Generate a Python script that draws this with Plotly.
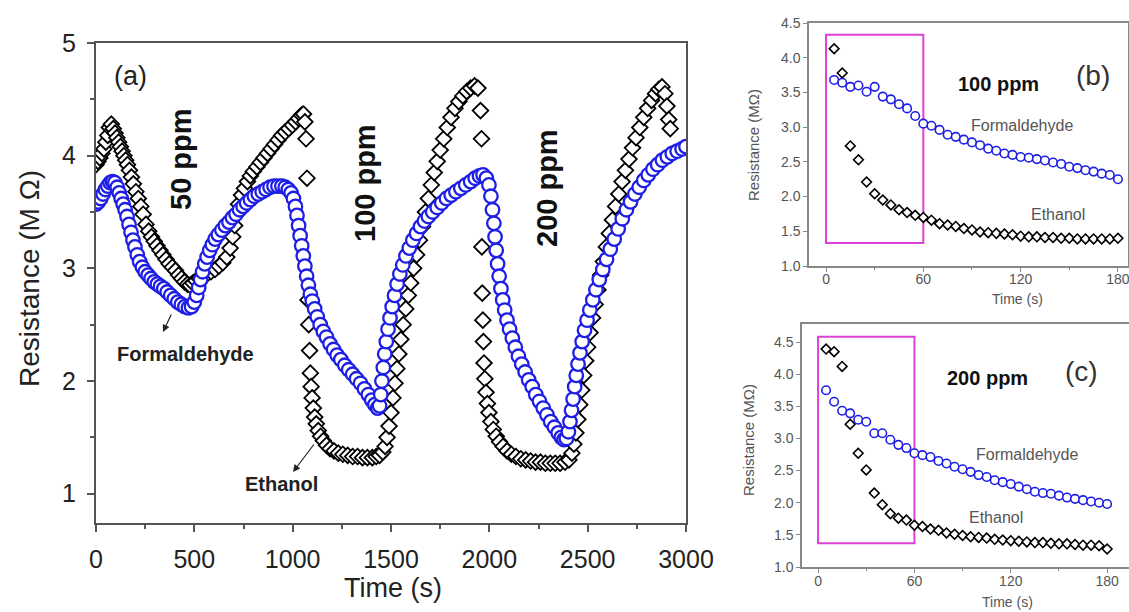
import plotly.graph_objects as go

# ---------------- data ----------------
# Panel (a): dynamic response, Ethanol (black diamonds) and Formaldehyde (blue circles)
ETH_A = [(0,3.92),(10,3.95),(20,3.98),(30,4.02),(40,4.06),(50,4.12),(60,4.18),(68,4.25),(78,4.28),
         (88,4.24),(97,4.20),(106,4.16),(115,4.12),(124,4.08),(133,4.04),(142,4.00),(151,3.96),(160,3.92),
         (170,3.87),(180,3.81),(190,3.75),(203,3.68),(215,3.62),(228,3.55),(240,3.48),(254,3.39),(268,3.33),
         (282,3.28),(296,3.24),(310,3.20),(325,3.16),(340,3.12),(356,3.08),(372,3.04),(388,3.01),(404,2.98),
         (420,2.94),(435,2.91),(450,2.88),(465,2.86),(478,2.85),(492,2.87),(508,2.89),(525,2.91),(545,2.93),
         (565,2.95),(585,2.97),(605,2.99),(625,3.02),(645,3.05),(665,3.10),(682,3.18),(695,3.28),(705,3.38),
         (715,3.48),(725,3.57),(740,3.65),(755,3.71),(770,3.77),(785,3.82),(800,3.86),(818,3.90),(836,3.94),
         (854,3.98),(872,4.02),(890,4.06),(908,4.10),(926,4.14),(944,4.18),(962,4.21),(980,4.24),(998,4.27),
         (1015,4.30),(1030,4.33),(1045,4.36),(1055,4.37),(1062,4.30),(1068,4.15),(1073,3.80),(1078,2.72),
         (1082,2.50),(1086,2.27),(1090,2.07),(1094,1.95),(1099,1.85),(1105,1.76),(1112,1.68),(1120,1.62),
         (1130,1.56),(1142,1.51),(1156,1.47),(1172,1.43),(1190,1.40),(1210,1.38),(1232,1.36),(1255,1.35),
         (1280,1.34),(1305,1.33),(1330,1.33),(1355,1.32),(1380,1.32),(1405,1.32),(1425,1.33),(1442,1.34),
         (1458,1.37),(1470,1.42),(1480,1.50),(1490,1.60),(1500,1.72),(1510,1.85),(1520,1.98),(1530,2.11),
         (1540,2.24),(1550,2.37),(1562,2.50),(1575,2.64),(1588,2.76),(1600,2.87),(1615,3.00),(1630,3.12),
         (1645,3.25),(1660,3.37),(1675,3.50),(1690,3.62),(1705,3.74),(1720,3.85),(1735,3.95),(1750,4.05),
         (1768,4.15),(1786,4.25),(1805,4.34),(1825,4.42),(1845,4.48),(1865,4.53),(1885,4.57),(1905,4.60),
         (1925,4.62),(1942,4.60),(1955,4.40),(1960,4.15),(1962,3.19),(1964,2.78),(1967,2.54),(1970,2.35),
         (1973,2.16),(1977,2.02),(1983,1.90),(1990,1.80),(1998,1.72),(2008,1.64),(2020,1.57),(2035,1.51),
         (2052,1.46),(2070,1.42),(2090,1.38),(2112,1.35),(2135,1.33),(2160,1.31),(2185,1.30),(2210,1.29),
         (2235,1.28),(2260,1.28),(2285,1.27),(2310,1.27),(2335,1.27),(2360,1.27),(2385,1.28),(2405,1.30),
         (2420,1.36),(2430,1.44),(2440,1.54),(2450,1.66),(2460,1.79),(2470,1.92),(2480,2.05),(2490,2.18),
         (2500,2.30),(2512,2.43),(2525,2.56),(2538,2.68),(2552,2.81),(2566,2.94),(2580,3.06),(2595,3.19),
         (2610,3.31),(2626,3.43),(2642,3.55),(2658,3.66),(2675,3.77),(2692,3.87),(2710,3.97),(2728,4.07),
         (2746,4.16),(2765,4.25),(2785,4.34),(2805,4.42),(2825,4.49),(2845,4.55),(2862,4.59),(2878,4.61),
         (2893,4.55),(2903,4.44),(2912,4.32),(2920,4.24)]

FORM_A = [(0,3.57),(12,3.59),(24,3.62),(36,3.66),(48,3.70),(60,3.73),(72,3.76),(84,3.77),(96,3.76),
          (108,3.72),(118,3.67),(128,3.62),(138,3.57),(148,3.52),(158,3.46),(168,3.39),(178,3.32),(188,3.25),
          (198,3.19),(210,3.12),(222,3.06),(236,3.01),(250,2.97),(265,2.94),(280,2.91),(296,2.88),(312,2.86),
          (328,2.84),(345,2.82),(362,2.79),(380,2.76),(398,2.73),(416,2.70),(434,2.68),(452,2.66),(470,2.65),
          (486,2.66),(500,2.70),(512,2.76),(522,2.83),(532,2.90),(542,2.97),(553,3.04),(565,3.10),(578,3.16),
          (592,3.21),(606,3.26),(622,3.30),(640,3.34),(658,3.38),(676,3.41),(694,3.45),(712,3.48),(730,3.52),
          (748,3.55),(766,3.58),(785,3.61),(805,3.64),(825,3.66),(845,3.68),(865,3.70),(885,3.72),(905,3.73),
          (925,3.73),(945,3.73),(962,3.72),(978,3.70),(992,3.67),(1004,3.62),(1014,3.55),(1022,3.47),
          (1030,3.38),(1038,3.29),(1046,3.20),(1054,3.11),(1062,3.02),(1071,2.93),(1080,2.85),(1090,2.77),
          (1100,2.71),(1112,2.64),(1125,2.57),(1140,2.50),(1156,2.44),(1172,2.39),(1190,2.33),(1208,2.28),
          (1226,2.23),(1245,2.19),(1265,2.14),(1285,2.10),(1305,2.06),(1325,2.02),(1345,1.98),(1365,1.93),
          (1385,1.88),(1402,1.83),(1418,1.79),(1432,1.76),(1442,1.78),(1448,1.88),(1454,2.00),(1461,2.12),
          (1468,2.24),(1476,2.35),(1485,2.46),(1495,2.56),(1506,2.66),(1518,2.76),(1531,2.86),(1545,2.95),
          (1560,3.03),(1576,3.11),(1593,3.18),(1611,3.25),(1630,3.31),(1650,3.37),(1670,3.42),(1690,3.46),
          (1712,3.50),(1735,3.54),(1758,3.58),(1782,3.62),(1806,3.65),(1830,3.68),(1855,3.71),(1880,3.74),
          (1905,3.77),(1928,3.80),(1950,3.82),(1968,3.83),(1985,3.80),(1998,3.74),(2008,3.64),(2016,3.52),
          (2023,3.40),(2029,3.28),(2035,3.16),(2042,3.04),(2050,2.93),(2059,2.82),(2068,2.72),(2078,2.63),
          (2090,2.54),(2103,2.46),(2117,2.38),(2132,2.30),(2148,2.22),(2165,2.15),(2182,2.08),(2200,2.01),
          (2218,1.95),(2236,1.88),(2255,1.82),(2274,1.76),(2293,1.70),(2312,1.64),(2331,1.59),(2350,1.54),
          (2366,1.50),(2380,1.48),(2392,1.49),(2402,1.55),(2410,1.64),(2418,1.74),(2426,1.84),(2434,1.95),
          (2442,2.05),(2451,2.15),(2461,2.25),(2472,2.35),(2484,2.45),(2497,2.54),(2511,2.63),(2526,2.72),
          (2542,2.81),(2559,2.90),(2577,2.99),(2596,3.08),(2615,3.17),(2635,3.26),(2655,3.35),(2676,3.44),
          (2697,3.52),(2718,3.59),(2740,3.66),(2762,3.72),(2785,3.78),(2808,3.83),(2832,3.88),(2856,3.92),
          (2880,3.96),(2905,3.99),(2930,4.02),(2955,4.04),(2980,4.06),(3000,4.08)]

eth_a_t = [p[0] for p in ETH_A]
eth_a_r = [p[1] for p in ETH_A]
form_a_t = [p[0] for p in FORM_A]
form_a_r = [p[1] for p in FORM_A]

# Panels (b) and (c): first 180 s of exposure
t_bc = [5,10,15,20,25,30,35,40,45,50,55,60,65,70,75,80,85,90,95,100,105,110,115,120,
        125,130,135,140,145,150,155,160,165,170,175,180]

form_b = [3.68,3.64,3.58,3.60,3.51,3.58,3.44,3.40,3.33,3.27,3.16,3.05,3.02,2.96,2.89,2.86,2.82,2.78,
          2.74,2.69,2.66,2.62,2.60,2.57,2.56,2.54,2.52,2.49,2.47,2.43,2.41,2.38,2.36,2.33,2.31,2.25]
eth_b = [4.13,3.78,2.73,2.53,2.21,2.04,1.95,1.88,1.81,1.77,1.73,1.70,1.66,1.61,1.59,1.57,1.54,1.52,
         1.49,1.48,1.47,1.46,1.45,1.43,1.42,1.42,1.41,1.41,1.40,1.40,1.39,1.39,1.39,1.39,1.39,1.40]

form_c = [3.75,3.57,3.43,3.39,3.29,3.26,3.08,3.08,2.98,2.90,2.85,2.77,2.74,2.71,2.65,2.61,2.56,2.52,
          2.48,2.43,2.40,2.35,2.32,2.29,2.25,2.21,2.17,2.15,2.14,2.11,2.08,2.06,2.04,2.02,2.00,1.98]
eth_c = [4.39,4.35,4.12,3.22,2.77,2.51,2.15,1.97,1.83,1.76,1.73,1.65,1.63,1.59,1.57,1.53,1.51,1.49,
         1.47,1.46,1.45,1.43,1.42,1.41,1.40,1.39,1.38,1.38,1.37,1.36,1.36,1.35,1.34,1.34,1.33,1.28]

# highlighted windows (time, resistance)
box_b = dict(t0=0, t1=60, r0=1.33, r1=4.33)
box_c = dict(t0=0, t1=60, r0=1.37, r1=4.58)

# ---------------- figure ----------------
W, H = 1129, 612
BLUE = '#1e1ee6'
PINK = '#e040d4'
FONT = 'Arial, Liberation Sans, sans-serif'


def px(x):
    return x / W


def py(y):
    return 1 - y / H


fig = go.Figure()

mk_eth_a = dict(symbol='diamond', size=12, color='white', line=dict(color='black', width=1.8))
mk_form_a = dict(symbol='circle', size=13.5, color='white', line=dict(color=BLUE, width=2.3))
mk_eth_s = dict(symbol='diamond', size=7.5, color='white', line=dict(color='black', width=1.6))
mk_form_s = dict(symbol='circle', size=8.5, color='white', line=dict(color=BLUE, width=1.6))

fig.add_trace(go.Scatter(x=eth_a_t, y=eth_a_r, mode='markers', marker=mk_eth_a,
                         name='Ethanol', xaxis='x', yaxis='y', showlegend=False))
fig.add_trace(go.Scatter(x=form_a_t, y=form_a_r, mode='markers', marker=mk_form_a,
                         name='Formaldehyde', xaxis='x', yaxis='y', showlegend=False))

fig.add_trace(go.Scatter(x=t_bc, y=eth_b, mode='markers', marker=mk_eth_s,
                         name='Ethanol', xaxis='x2', yaxis='y2', showlegend=False))
fig.add_trace(go.Scatter(x=t_bc, y=form_b, mode='markers', marker=mk_form_s,
                         name='Formaldehyde', xaxis='x2', yaxis='y2', showlegend=False))

fig.add_trace(go.Scatter(x=t_bc, y=eth_c, mode='markers', marker=mk_eth_s,
                         name='Ethanol', xaxis='x3', yaxis='y3', showlegend=False))
fig.add_trace(go.Scatter(x=t_bc, y=form_c, mode='markers', marker=mk_form_s,
                         name='Formaldehyde', xaxis='x3', yaxis='y3', showlegend=False))

ax_a = dict(showline=True, linecolor='#555', linewidth=2, mirror=True, ticks='outside',
            ticklen=7, tickwidth=1.5, tickcolor='#555', showgrid=False, zeroline=False,
            tickfont=dict(family=FONT, size=25, color='#222'), automargin=False,
            ticklabeloverflow='allow')
ax_s = dict(showline=True, linecolor='#888', linewidth=1.5, mirror=True, ticks='outside',
            ticklen=4, tickwidth=1, tickcolor='#888', showgrid=False, zeroline=False,
            tickfont=dict(family=FONT, size=14, color='#555'), automargin=False,
            ticklabeloverflow='allow')

fig.update_layout(
    width=W, height=H,
    margin=dict(l=0, r=0, t=0, b=0),
    paper_bgcolor='white', plot_bgcolor='white',
    showlegend=False,
    xaxis=dict(ax_a, domain=[px(96), px(686)], range=[0, 3000], dtick=500, anchor='y',
               ticklabelstandoff=6,
               minor=dict(dtick=250, ticks='outside', ticklen=4, tickcolor='#555')),
    yaxis=dict(ax_a, domain=[py(523), py(43)], range=[0.74, 5.0], dtick=1, anchor='x',
               ticklabelstandoff=6,
               minor=dict(dtick=0.5, ticks='outside', ticklen=4, tickcolor='#555')),
    xaxis2=dict(ax_s, domain=[px(809), px(1128)], range=[-10.5, 186.2], tickvals=[0, 60, 120, 180],
                anchor='y2', ticklabelstandoff=-5,
                minor=dict(dtick=30, ticks='outside', ticklen=2, tickcolor='#888')),
    yaxis2=dict(ax_s, domain=[py(266), py(23)], range=[1.0, 4.5], dtick=0.5, tickformat='.1f',
                anchor='x2'),
    xaxis3=dict(ax_s, domain=[px(802), px(1128.5)], range=[-10, 193.3], tickvals=[0, 60, 120, 180],
                anchor='y3', ticklabelstandoff=-4,
                minor=dict(dtick=30, ticks='outside', ticklen=2, tickcolor='#888')),
    yaxis3=dict(ax_s, domain=[py(567), py(324)], range=[1.0, 4.78], tickvals=[1.0, 1.5, 2.0, 2.5, 3.0, 3.5, 4.0, 4.5],
                tickformat='.1f', anchor='x3'),
)

for box, xr, yr in [(box_b, 'x2', 'y2'), (box_c, 'x3', 'y3')]:
    fig.add_shape(type='rect', xref=xr, yref=yr, x0=box['t0'], x1=box['t1'], y0=box['r0'], y1=box['r1'],
                  line=dict(color=PINK, width=2), fillcolor='rgba(0,0,0,0)', layer='below')


def note(text, x, y, size, color='#111', bold=False, angle=0):
    fig.add_annotation(text=('<b>%s</b>' % text) if bold else text, xref='paper', yref='paper',
                       x=px(x), y=py(y), xanchor='center', yanchor='middle', showarrow=False,
                       textangle=angle, font=dict(family=FONT, size=size, color=color))


# panel (a)
note('(a)', 130, 76, 27, '#222')
note('50 ppm', 181, 159, 29, '#111', True, -90)
note('100 ppm', 365, 183, 29, '#111', True, -90)
note('200 ppm', 547, 188, 29, '#111', True, -90)
note('Formaldehyde', 185, 354, 20, '#222', True)
note('Ethanol', 281, 484, 20, '#222', True)
note('Resistance (M Ω)', 30, 279, 28, '#222', False, -90)
note('Time (s)', 393, 588, 27, '#222')

for tip, off in [((163, 332), (9, -19)), ((293, 472), (22, -29))]:
    fig.add_annotation(text='', xref='paper', yref='paper', x=px(tip[0]), y=py(tip[1]),
                       ax=off[0], ay=off[1], axref='pixel', ayref='pixel', showarrow=True,
                       arrowhead=2, arrowsize=1.2, arrowwidth=1.2, arrowcolor='#222')

# panel (b)
note('100 ppm', 998, 84, 20, '#111', True)
note('(b)', 1093, 75, 28, '#333')
note('Formaldehyde', 1022, 126, 16, '#555')
note('Ethanol', 1058, 214, 16, '#555')
note('Resistance (MΩ)', 753, 145, 15, '#555', False, -90)
note('Time (s)', 1017, 299, 14, '#555')

# panel (c)
note('200 ppm', 987, 378, 20, '#111', True)
note('(c)', 1081, 372, 28, '#333')
note('Formaldehyde', 1027, 454, 16, '#555')
note('Ethanol', 996, 517, 16, '#555')
note('Resistance (MΩ)', 748, 440, 15, '#555', False, -90)
note('Time (s)', 1007, 602, 14, '#555')

fig.write_html('out.html')
